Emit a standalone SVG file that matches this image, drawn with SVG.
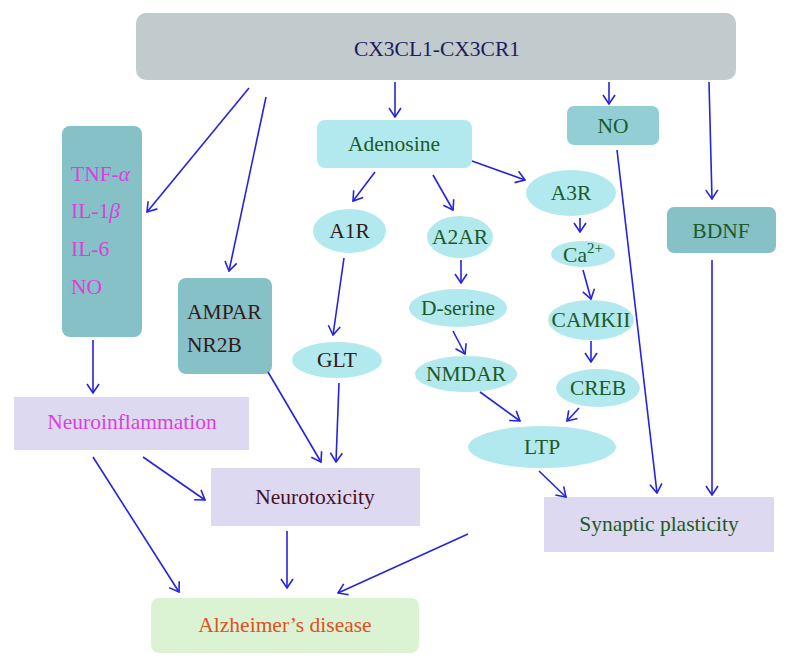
<svg xmlns="http://www.w3.org/2000/svg" width="790" height="667" viewBox="0 0 790 667">
<defs>
<marker id="ah" markerUnits="userSpaceOnUse" viewBox="-11 -7 12 14" refX="0" refY="0" markerWidth="12" markerHeight="14" orient="auto">
<path d="M-9,-6 L0,0 L-9,6" fill="none" stroke="#2424e0" stroke-width="1.6"/>
</marker>
<style>
text{font-family:"Liberation Serif","Times New Roman",serif;font-size:21.5px}
.c{text-anchor:middle}
.teal{fill:#86c1c7}
.cyan{fill:#b2e9ee}
.lav{fill:#dcd9f0}
.g{fill:#1d5a28}
.m{fill:#dd3fdd}
.b{fill:#361a1a}
#conn line{stroke:#2424e0;stroke-width:1.6;marker-end:url(#ah)}
</style>
</defs>
<rect width="790" height="667" fill="#ffffff"/>

<g id="cx3cl1"><rect x="136" y="13" width="600" height="67" rx="10" fill="#c1cacd"/><text class="c" x="437" y="56" fill="#1c1c5c">CX3CL1-CX3CR1</text></g>
<g id="cytokines"><rect x="62" y="126" width="80" height="211" rx="8" class="teal"/>
<text class="m" x="71" y="181">TNF-<tspan font-style="italic">α</tspan></text>
<text class="m" x="71" y="218">IL-1<tspan font-style="italic">β</tspan></text>
<text class="m" x="71" y="256">IL-6</text>
<text class="m" x="71" y="294">NO</text></g>
<g id="ampar"><rect x="178" y="278" width="94" height="96" rx="8" class="teal"/>
<text class="b" x="187" y="319">AMPAR</text><text class="b" x="187" y="352">NR2B</text></g>
<g id="adenosine"><rect x="317" y="120" width="155" height="48" rx="8" class="cyan"/><text class="c g" x="394" y="151">Adenosine</text></g>
<g id="no"><rect x="567" y="106" width="92" height="39" rx="7" fill="#92ced4"/><text class="c g" x="613" y="133">NO</text></g>
<g id="bdnf"><rect x="667" y="207" width="109" height="46" rx="7" class="teal"/><text class="c g" x="721" y="238">BDNF</text></g>
<g id="a1r"><ellipse cx="349.5" cy="231" rx="36.5" ry="22" class="cyan"/><text class="c b" x="349.5" y="238">A1R</text></g>
<g id="a2ar"><ellipse cx="460" cy="237" rx="33" ry="21" class="cyan"/><text class="c g" x="460" y="244">A2AR</text></g>
<g id="a3r"><ellipse cx="571" cy="193" rx="45" ry="23" class="cyan"/><text class="c g" x="571" y="200">A3R</text></g>
<g id="ca"><ellipse cx="583" cy="254" rx="32" ry="13" class="cyan"/><text class="c g" x="583" y="262">Ca<tspan font-size="15" dy="-9">2+</tspan></text></g>
<g id="dserine"><ellipse cx="458" cy="308" rx="49" ry="19" class="cyan"/><text class="c g" x="458" y="315">D-serine</text></g>
<g id="camkii"><ellipse cx="591" cy="320" rx="43" ry="20" class="cyan"/><text class="c g" x="591" y="327">CAMKII</text></g>
<g id="glt"><ellipse cx="337" cy="360" rx="45" ry="18" class="cyan"/><text class="c b" x="337" y="367">GLT</text></g>
<g id="nmdar"><ellipse cx="466" cy="374" rx="51" ry="18" class="cyan"/><text class="c g" x="466" y="381">NMDAR</text></g>
<g id="creb"><ellipse cx="598" cy="388" rx="42" ry="19" class="cyan"/><text class="c g" x="598" y="395">CREB</text></g>
<g id="ltp"><ellipse cx="542" cy="447" rx="74" ry="21" class="cyan"/><text class="c g" x="542" y="454">LTP</text></g>
<g id="neuroinflammation"><rect x="14" y="397" width="235" height="53" class="lav"/><text class="c m" x="132" y="429">Neuroinflammation</text></g>
<g id="neurotoxicity"><rect x="211" y="468" width="209" height="58" class="lav"/><text class="c" x="315" y="504" fill="#4a1028">Neurotoxicity</text></g>
<g id="synaptic"><rect x="544" y="497" width="230" height="55" class="lav"/><text class="c g" x="659" y="531">Synaptic plasticity</text></g>
<g id="alzheimers"><rect x="151" y="598" width="268" height="55" rx="8" fill="#dcf3d3"/><text class="c" x="285" y="632" fill="#e0501c">Alzheimer’s disease</text></g>

<g id="conn">
<line x1="249" y1="88" x2="147" y2="212"/>
<line x1="266" y1="97" x2="229" y2="271"/>
<line x1="395" y1="82" x2="395" y2="117"/>
<line x1="609" y1="82" x2="609" y2="104"/>
<line x1="709" y1="82" x2="712" y2="199"/>
<line x1="375" y1="172" x2="353" y2="201"/>
<line x1="433" y1="175" x2="453" y2="210"/>
<line x1="472" y1="161" x2="525" y2="180"/>
<line x1="344" y1="258" x2="333" y2="335"/>
<line x1="461" y1="260" x2="461" y2="283"/>
<line x1="580" y1="218" x2="580" y2="232"/>
<line x1="583" y1="270" x2="591" y2="299"/>
<line x1="453" y1="331" x2="465" y2="354"/>
<line x1="591" y1="341" x2="591" y2="362"/>
<line x1="480" y1="392" x2="520" y2="421"/>
<line x1="579" y1="408" x2="567" y2="421"/>
<line x1="617" y1="150" x2="657" y2="493"/>
<line x1="712" y1="260" x2="712" y2="495"/>
<line x1="539" y1="471" x2="566" y2="497"/>
<line x1="93" y1="340" x2="93" y2="393"/>
<line x1="268" y1="372" x2="321" y2="462"/>
<line x1="339" y1="383" x2="336" y2="462"/>
<line x1="143" y1="457" x2="205" y2="500"/>
<line x1="93" y1="457" x2="179" y2="592"/>
<line x1="287" y1="531" x2="287" y2="588"/>
<line x1="468" y1="534" x2="338" y2="593"/>
</g>
</svg>
